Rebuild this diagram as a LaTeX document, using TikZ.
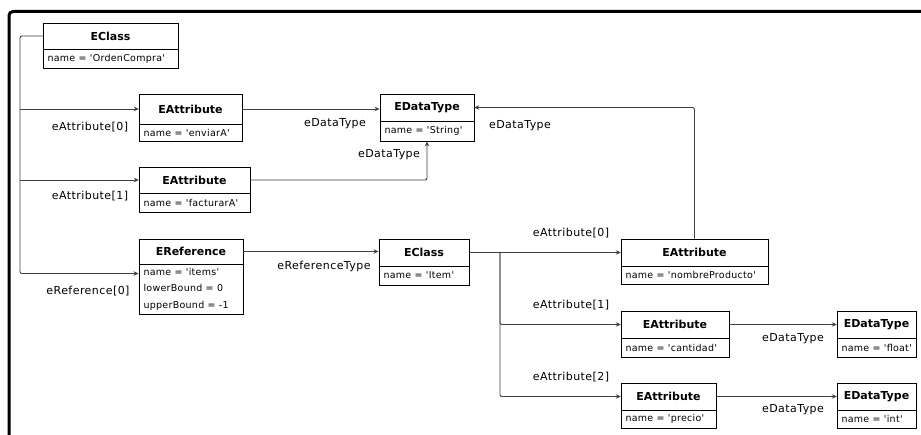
\documentclass[tikz,border=0pt]{standalone}
\usepackage{fontspec}
\setmainfont{DejaVu Sans}
\newfontfamily\bodyfont{DejaVu Sans}[LetterSpace=3]
\newfontfamily\lblfont{DejaVu Sans}[LetterSpace=4]
\newfontfamily\headfont{DejaVu Sans}
\usetikzlibrary{arrows.meta,fit,calc}
\tikzset{
  umlframe/.style={draw=black, line width=0.9pt, inner sep=0pt, fill=white},
  umlarea/.style={inner sep=0pt},
  umlhead/.style={inner sep=0pt, font=\headfont\fontsize{11}{13}\selectfont\bfseries},
  umlbody/.style={inner sep=0pt, align=left, anchor=west, font=\bodyfont\fontsize{9.5}{16.5}\selectfont},
  umlline/.style={draw=black, line width=0.8pt},
  conn/.style={draw=black!75, line width=0.9pt, rounded corners=2pt},
  arr/.style={conn, -{Stealth[length=5pt,width=4.5pt]}},
  lbl/.style={inner sep=0pt, font=\lblfont\fontsize{11}{13}\selectfont},
}
\newcommand\umlbox[8]{%
  \node[umlframe, fit={(#2,#3) (#4,#5)}] (#1) {};
  \node[umlarea, fit={(#2,#3) (#4,#6)}] (#1h) {};
  \node[umlarea, fit={(#2,#6) (#4,#5)}] (#1a) {};
  \draw[umlline] (#1h.south west) -- (#1h.south east);
  \node[umlhead] (#1t) at (#1h.center) {#7};
  \node[umlbody] (#1b) at ([xshift=4.5pt]#1a.west) {#8};
}
\begin{document}
\begin{tikzpicture}[x=1pt,y=-1pt]
\useasboundingbox (0,0) rectangle (921,435);
% frame
\draw[line width=3pt, rounded corners=4pt] (9,435) -- (9,11.5) -- (921,11.5);

% boxes
\umlbox{ecA}{43}{23}{178}{68}{49}{EClass}{name = 'OrdenCompra'}
\umlbox{eaA}{139}{94}{242}{141}{124}{EAttribute}{name = 'enviarA'}
\umlbox{eaB}{139}{167}{250}{212}{193}{EAttribute}{name = 'facturarA'}
\umlbox{eref}{139}{239}{243}{314}{264}{EReference}{name = 'items'\\lowerBound = 0\\upperBound = -1}
\umlbox{dtS}{380}{94}{474}{141}{121}{EDataType}{name = 'String'}
\umlbox{ecB}{379}{239}{469}{285}{266}{EClass}{name = 'Item'}
\umlbox{eaC}{621}{239}{768}{284}{266}{EAttribute}{name = 'nombreProducto'}
\umlbox{eaD}{621}{311}{729}{357}{338}{EAttribute}{name = 'cantidad'}
\umlbox{eaE}{621}{383}{716}{428}{410}{EAttribute}{name = 'precio'}
\umlbox{dtF}{837}{311}{916}{357}{338}{EDataType}{name = 'float'}
\umlbox{dtI}{837}{383}{916}{428}{410}{EDataType}{name = 'int'}

% left bus
\coordinate (bus) at (20,36);
\coordinate (erefin) at ($(eref.north west)+(0,35)$);
\draw[arr] (ecAh.west) -- (bus) |- (erefin);
\draw[arr] (bus |- eaAh.west) -- (eaAh.west);
\draw[arr] (bus |- eaBh.west) -- (eaBh.west);

% data types of String
\draw[arr] (eaAh.east) -- (eaAh.east -| dtS.west);
\draw[arr] (eaBh.east) -| (dtS.south);
\draw[arr] (eaC.north) |- (dtSh.east);

% reference
\draw[arr] (erefh.east) -- (erefh.east -| ecB.west);
\draw[arr] (ecBh.east) -- (eaCh.west);
\coordinate (br) at (500,252);
\draw[arr] (br) |- (eaDh.west);
\draw[arr] (br) |- (eaEh.west);
\draw[arr] (eaDh.east) -- (dtFh.west);
\draw[arr] (eaEh.east) -- (dtIh.west);

% labels
\node[lbl] at (90,127) {eAttribute[0]};
\node[lbl] at (90,196) {eAttribute[1]};
\node[lbl] at (88,291) {eReference[0]};
\node[lbl] at (335,124) {eDataType};
\node[lbl] at (389,155) {eDataType};
\node[lbl] at (520,126) {eDataType};
\node[lbl] at (324,266) {eReferenceType};
\node[lbl] at (571,233) {eAttribute[0]};
\node[lbl] at (571,305) {eAttribute[1]};
\node[lbl] at (571,377) {eAttribute[2]};
\node[lbl] at (793,339) {eDataType};
\node[lbl] at (793,410) {eDataType};
\end{tikzpicture}
\end{document}
